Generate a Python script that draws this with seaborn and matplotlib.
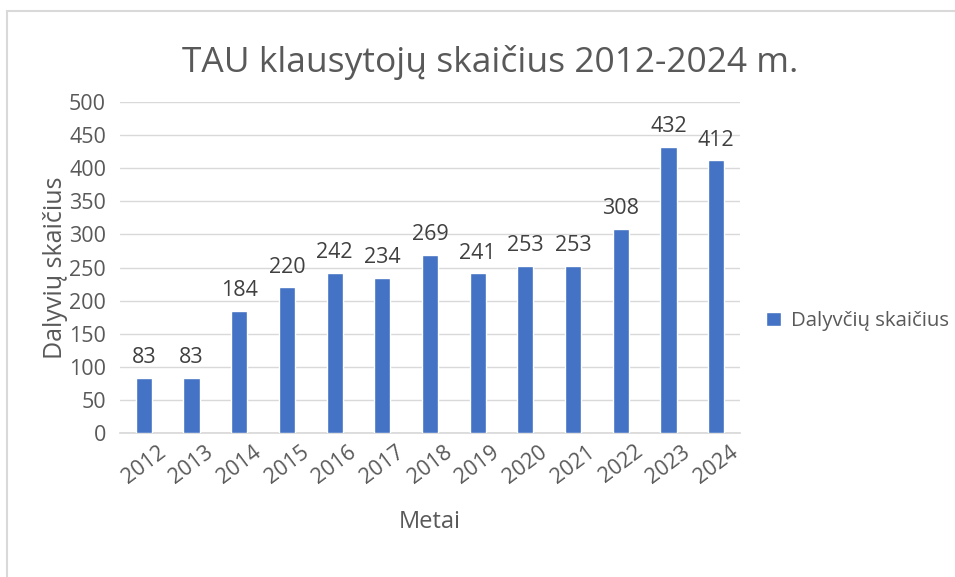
import matplotlib
matplotlib.use("Agg")
import matplotlib.pyplot as plt
import seaborn as sns
import pandas as pd

years = ["2012", "2013", "2014", "2015", "2016", "2017", "2018",
         "2019", "2020", "2021", "2022", "2023", "2024"]
participants = [83, 83, 184, 220, 242, 234, 269, 241, 253, 253, 308, 432, 412]
series_name = "Dalyvčių skaičius"

sns.set_theme(style="white")
plt.rcParams['font.family'] = ['Open Sans', 'DejaVu Sans']

df = pd.DataFrame({"Metai": years, "Dalyviai": participants})

fig = plt.figure(figsize=(9.55, 5.77), dpi=100)
ax = fig.add_axes([120 / 955, 1 - 433 / 577, 620 / 955, 331 / 577])

text_col = "#595959"
sns.barplot(data=df, x="Metai", y="Dalyviai", color="#4472C4", width=0.34,
            saturation=1, label=series_name, ax=ax, zorder=3)

for i, v in enumerate(participants):
    ax.annotate(str(v), (i, v), xytext=(0, 7), textcoords="offset points",
                ha="center", va="bottom", fontsize=15.5, color="#404040")

ax.set_ylim(0, 500)
ax.set_yticks(range(0, 501, 50))
ax.set_xlim(-0.5, len(years) - 0.5)
ax.yaxis.grid(True, color="#d9d9d9", linewidth=1, zorder=0)
for s in ["top", "right", "left"]:
    ax.spines[s].set_visible(False)
ax.spines["bottom"].set_color("#d9d9d9")
ax.tick_params(axis="y", length=0, labelsize=15.5, labelcolor=text_col, pad=10)
ax.tick_params(axis="x", length=0, labelsize=15.5, labelcolor=text_col, pad=6)
plt.setp(ax.get_xticklabels(), rotation=37, ha="center", va="top")

ax.set_xlabel("Metai", fontsize=17, color=text_col, labelpad=16)
ax.set_ylabel("Dalyvių skaičius", fontsize=18, color=text_col, labelpad=1)

fig.text(490 / 955, 1 - 62 / 577, "TAU klausytojų skaičius 2012-2024 m.",
         ha="center", va="center", fontsize=25.5, color=text_col)

leg = ax.legend(loc="center left", bbox_to_anchor=(748 / 955, 1 - 321 / 577),
                bbox_transform=fig.transFigure, frameon=False, fontsize=14.7,
                handlelength=0.7, handleheight=0.7, handletextpad=0.5)
for t in leg.get_texts():
    t.set_color(text_col)

# chart area border (top and left edges visible)
fig.add_artist(plt.Line2D([7 / 955, 1], [1 - 11 / 577] * 2, transform=fig.transFigure,
                          color="#d9d9d9", linewidth=1.5))
fig.add_artist(plt.Line2D([7 / 955] * 2, [0, 1 - 11 / 577], transform=fig.transFigure,
                          color="#d9d9d9", linewidth=1.5))

fig.savefig("out.png", dpi=100)
